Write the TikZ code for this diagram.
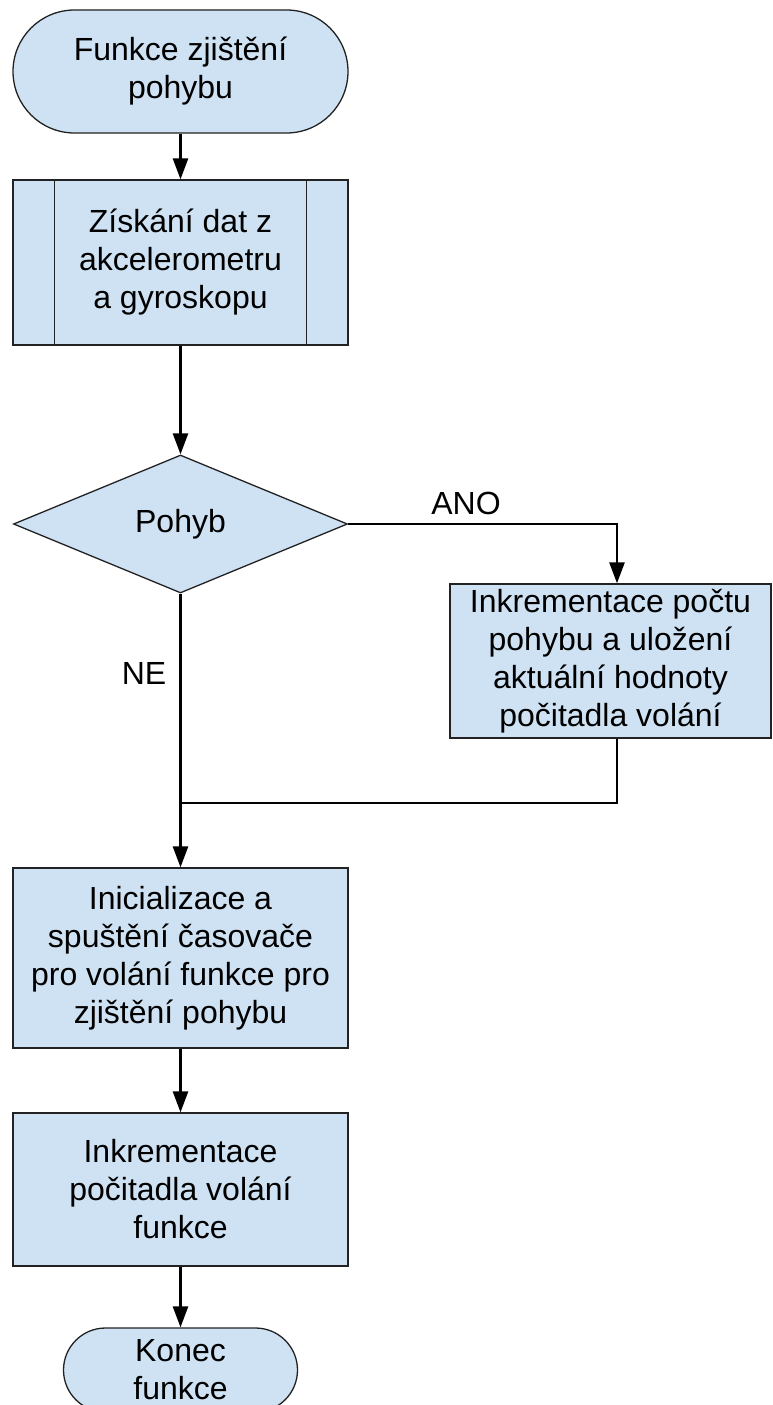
\documentclass[tikz,border=0pt]{standalone}
\usepackage{fontspec}
\setmainfont{Liberation Sans}
\usetikzlibrary{shapes.geometric,shapes.misc,arrows.meta,calc}
\definecolor{boxfill}{HTML}{CFE2F3}
\definecolor{boxline}{HTML}{222222}
\begin{document}
\begin{tikzpicture}[x=1pt,y=-1pt,
  every node/.style={font=\fontsize{32}{38}\selectfont, align=center, inner sep=0pt},
  box/.style={draw=boxline, fill=boxfill, line width=1.3pt, rectangle},
  term/.style={draw=boxline, fill=boxfill, line width=1.3pt, rounded rectangle},
  decision/.style={draw=boxline, fill=boxfill, line width=1.3pt, diamond},
  conn/.style={line width=2.6pt, black},
  arrowed/.style={conn, -{Triangle[length=21pt,width=15pt]}},
  lbl/.style={font=\fontsize{32}{38}\selectfont}]
  \useasboundingbox (0,0) rectangle (772,1405);
  \begin{scope}
  \clip (0,0) rectangle (772,1405);

  % process nodes
  \node[term, minimum width=335pt, minimum height=123pt] (start) at (180.5,71.5)
    {Funkce zjištění\\pohybu};
  \node[box, minimum width=335pt, minimum height=165pt] (sub) at (180.5,262.5)
    {Získání dat z\\akcelerometru\\a gyroskopu};
  \draw[boxline, line width=1.3pt]
    ($(sub.north west)+(42,0)$) -- ($(sub.south west)+(42,0)$)
    ($(sub.north east)+(-42,0)$) -- ($(sub.south east)+(-42,0)$);
  \node[decision, minimum width=334pt, minimum height=138pt, aspect=2.42] (dec) at (180.5,524)
    {Pohyb};
  \node[box, minimum width=321pt, minimum height=154pt] (inc) at (610.5,661)
    {Inkrementace počtu\\pohybu a uložení\\aktuální hodnoty\\počitadla volání};
  \node[box, minimum width=335pt, minimum height=180pt] (init) at (180.5,958)
    {Inicializace a\\spuštění časovače\\pro volání funkce pro\\zjištění pohybu};
  \node[box, minimum width=335pt, minimum height=153pt] (cnt) at (180.5,1189.5)
    {Inkrementace\\počitadla volání\\funkce};
  \node[term, minimum width=234pt, minimum height=84pt] (end) at (180.5,1370)
    {Konec\\funkce};

  % routing helpers
  \coordinate (branch) at (617,0);
  \coordinate (join) at (180.5,803);

  % connectors
  \draw[arrowed] (start.south) -- (sub.north);
  \draw[arrowed] (sub.south) -- (dec.north);
  \draw[arrowed] (dec.east) -| (inc.north -| branch);
  \draw[conn] (inc.south -| branch) |- (join);
  \draw[arrowed] (dec.south) -- (init.north);
  \draw[arrowed] (init.south) -- (cnt.north);
  \draw[arrowed] (cnt.south) -- (end.north);

  % branch labels
  \node[lbl] (ano) at (466,503) {ANO};
  \node[lbl] (ne) at (144,673) {NE};
  \end{scope}
\end{tikzpicture}
\end{document}
